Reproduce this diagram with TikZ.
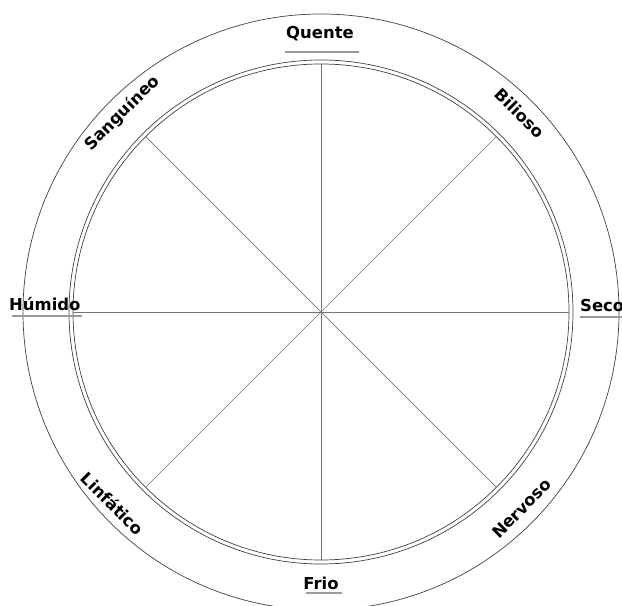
\documentclass[tikz,border=0pt]{standalone}
\usepackage{fontspec}
\setmainfont{DejaVu Sans}
\usetikzlibrary{calc}
\begin{document}
\begin{tikzpicture}[x=1bp,y=1bp,
  ring/.style={draw=black!75,line width=0.7bp},
  spoke/.style={draw=black!55,line width=0.7bp},
  uline/.style={draw=black!40,line width=1.3bp},
  lbl/.style={font=\bfseries\fontsize{16.5}{19}\selectfont,inner sep=0pt}]
\useasboundingbox (0,0) rectangle (622,606);
\coordinate (c) at (321,294);
% circles
\draw[ring] (c) circle[radius=298];
\draw[ring] (c) circle[radius=252];
\draw[ring] (c) circle[radius=248];
% spokes
\foreach \a in {0,45,...,315}{
  \coordinate (s\a) at ($(c)+(\a:248)$);
  \draw[spoke] (c) -- (s\a);
}
% axis labels
\node[lbl] (quente) at (320,572) {Quente};
\coordinate (qa) at (285,554); \coordinate (qb) at (359,554);
\draw[uline] (qa) -- (qb);
\node[lbl] (frio) at (321,23) {Frio};
\coordinate (fa) at (306,13); \coordinate (fb) at (342,13);
\draw[uline] (fa) -- (fb);
\node[lbl,anchor=west] (humido) at (9,302) {Húmido};
\coordinate (ha) at (12,290); \coordinate (hb) at (82,290);
\draw[uline] (ha) -- (hb);
\node[lbl,anchor=west] (seco) at (580,300) {Seco};
\coordinate (sa) at (580,289); \coordinate (sb) at (622,289);
\draw[uline] (sa) -- (sb);
% diagonal labels
\node[lbl,rotate=45] (sang) at ($(c)+(135:281)$) {Sanguíneo};
\node[lbl,rotate=-45] (bil) at ($(c)+(45:281)$) {Bilioso};
\node[lbl,rotate=-45] (linf) at ($(c)+(222.6:283)$) {Linfático};
\node[lbl,rotate=45] (nerv) at ($(c)+(-44.4:281)$) {Nervoso};
\end{tikzpicture}
\end{document}
